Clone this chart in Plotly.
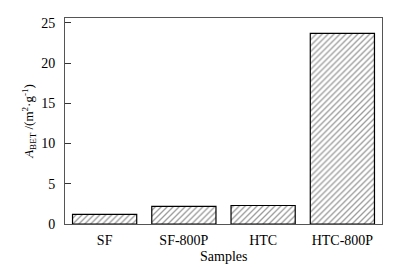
import plotly.graph_objects as go

categories = ["SF", "SF-800P", "HTC", "HTC-800P"]
abet_values = [1.2, 2.2, 2.3, 23.7]
y_ticks = [0, 5, 10, 15, 20, 25]

font_family = "Liberation Serif"

fig = go.Figure(go.Bar(
    x=categories, y=abet_values, width=0.81,
    marker=dict(color="white", line=dict(color="black", width=1.2),
                pattern=dict(shape="/", fgcolor="#3a3a3a", bgcolor="white", size=4.2, solidity=0.32)),
))

# page body has an 8px default margin; compensate so the plot area lands where the reference has it
fig.update_layout(
    width=394, height=259,
    margin=dict(l=57, r=20, t=8, b=43),
    paper_bgcolor="white", plot_bgcolor="white",
    font=dict(family=font_family, size=14, color="black"),
    showlegend=False,
    xaxis=dict(range=[-0.5, 3.5], showline=True, linecolor="#555555", linewidth=1, mirror=True,
               ticks="", tickfont=dict(size=14), ticklabelstandoff=3),
    yaxis=dict(range=[0, 25.6], tickvals=y_ticks, showline=True, linecolor="#555555", linewidth=1,
               mirror=True, ticks="inside", ticklen=6, tickcolor="#333333", showgrid=False, zeroline=False,
               tickfont=dict(size=14), ticklabelstandoff=6,
               title=dict(text="<i>A</i><sub>BET</sub> /(m<sup>2</sup>·g<sup>-1</sup>)", font=dict(size=13), standoff=4)),
    annotations=[dict(text="Samples", xref="paper", yref="paper", x=0.5, y=-0.158,
                      xanchor="center", yanchor="middle", showarrow=False, font=dict(size=14))],
)

fig.write_html("out.html")
